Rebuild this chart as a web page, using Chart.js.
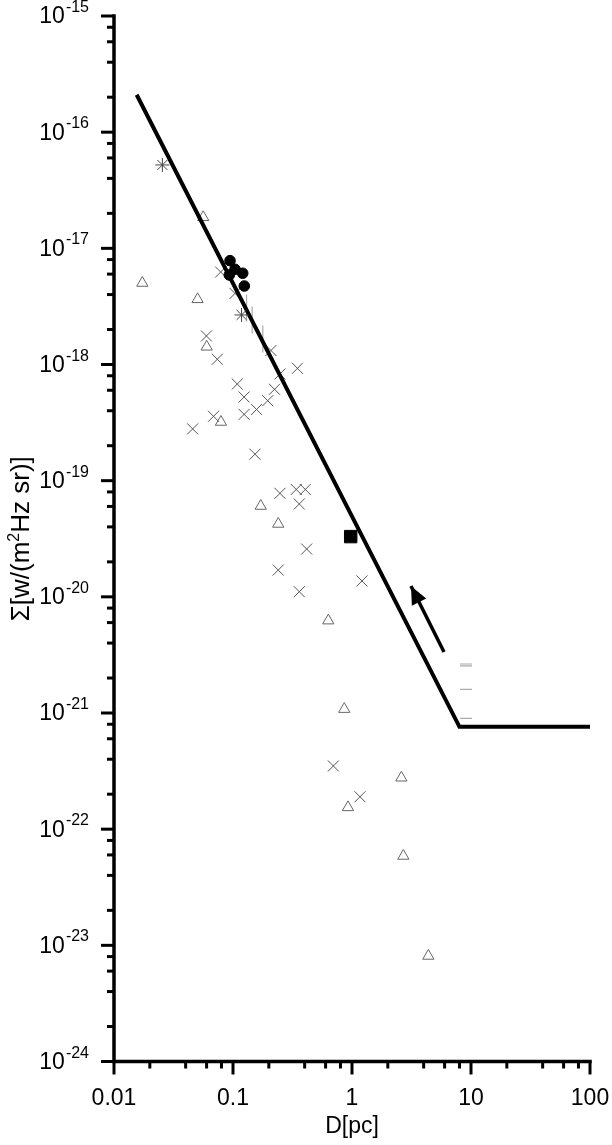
<!DOCTYPE html>
<html>
<head>
<meta charset="utf-8">
<script src="https://cdn.jsdelivr.net/npm/chart.js@4.4.0/dist/chart.umd.min.js"></script>
<style>
  html, body { margin: 0; padding: 0; background: #fff; }
</style>
</head>
<body>
<canvas id="myChart" width="612" height="1145"></canvas>
<script>
// Surface brightness Σ vs diameter D (log-log)

// gray crosses
const crossD = [0.0788, 0.104, 0.0598, 0.0738, 0.2085, 0.348, 0.248, 0.1086, 0.2234, 0.124, 0.1957, 0.1576, 0.124,
                0.0686, 0.0458, 0.153, 0.248, 0.340, 0.405, 0.3605, 0.416, 0.240, 0.3605, 1.213, 0.697, 1.167];
const crossS = [6.25e-18, 4.09e-18, 1.76e-18, 1.11e-18, 1.32e-18, 9.27e-19, 8.28e-19, 6.79e-19, 6.12e-19, 5.25e-19, 4.88e-19, 4.1e-19, 3.72e-19,
                3.58e-19, 2.79e-19, 1.69e-19, 7.78e-20, 8.4e-20, 8.4e-20, 6.3e-20, 2.58e-20, 1.70e-20, 1.107e-20, 1.37e-20, 3.5e-22, 1.9e-22];

// open triangles
const triD = [0.0173, 0.0562, 0.0504, 0.0601, 0.0792, 0.171, 0.240, 0.632, 0.861, 2.6, 0.925, 2.70, 4.38];
const triS = [5.03e-18, 1.85e-17, 3.64e-18, 1.42e-18, 3.2e-19, 6.05e-20, 4.24e-20, 6.24e-21, 1.08e-21, 2.77e-22, 1.54e-22, 5.88e-23, 8.1e-24];

// asterisks
const starD = [0.0255, 0.118];
const starS = [5.22e-17, 2.67e-18];

// filled circles
const dotD = [0.0944, 0.104, 0.1207, 0.0931, 0.1245];
const dotS = [7.83e-18, 6.6e-18, 6.1e-18, 5.9e-18, 4.74e-18];

// filled square
const squareD = [0.975];
const squareS = [3.3e-20];

// vertical and horizontal dash markers
const vbarD = [0.130, 0.145, 0.178];
const vbarS = [3.06e-18, 2.42e-18, 1.66e-18];
const hbarD = [9.08, 9.08, 9.08, 9.08];
const hbarS = [2.64e-21, 2.54e-21, 1.6e-21, 9.0e-22];

// Σ-D line and the arrow (tail, tip)
const fitD = [0.0155, 8, 100];
const fitS = [2.1e-16, 7.6e-22, 7.6e-22];
const arrowD = [5.93, 3.13];
const arrowS = [3.35e-21, 1.24e-20];

const xTicks = [0.01, 0.1, 1, 10, 100];
const xTickLabels = ['0.01', '0.1', '1', '10', '100'];
const yExponents = [-24, -23, -22, -21, -20, -19, -18, -17, -16, -15];

const FONT = '"Liberation Sans", Arial, Helvetica, sans-serif';

function pts(xs, ys) {
    return xs.map((x, i) => ({ x: x, y: ys[i] }));
}

// Draws axes, ticks, labels and the arrow head
const axesPlugin = {
    id: 'axes',
    afterDatasetsDraw(chart) {
        const ctx = chart.ctx;
        const xs = chart.scales.x, ys = chart.scales.y;
        const a = chart.chartArea;
        ctx.save();

        // arrow head
        const tx = xs.getPixelForValue(arrowD[0]), ty = ys.getPixelForValue(arrowS[0]);
        const hx = xs.getPixelForValue(arrowD[1]), hy = ys.getPixelForValue(arrowS[1]);
        const ang = Math.atan2(hy - ty, hx - tx);
        const len = 18, half = 8;
        const bx = hx - Math.cos(ang) * len, by = hy - Math.sin(ang) * len;
        ctx.fillStyle = '#000';
        ctx.beginPath();
        ctx.moveTo(hx, hy);
        ctx.lineTo(bx + Math.sin(ang) * half, by - Math.cos(ang) * half);
        ctx.lineTo(bx - Math.sin(ang) * half, by + Math.cos(ang) * half);
        ctx.closePath();
        ctx.fill();

        // axis lines
        ctx.strokeStyle = '#000';
        ctx.lineWidth = 3.5;
        ctx.lineCap = 'square';
        ctx.beginPath();
        ctx.moveTo(a.left, a.top);
        ctx.lineTo(a.left, a.bottom);
        ctx.lineTo(a.right, a.bottom);
        ctx.stroke();

        ctx.lineCap = 'butt';
        ctx.lineWidth = 3;
        // y ticks
        for (const e of yExponents) {
            for (const m of [1, 2, 4, 6, 8]) {
                if (e === -15 && m > 1) continue;
                const y = ys.getPixelForValue(m * Math.pow(10, e));
                const l = m === 1 ? 13 : 7;
                ctx.beginPath();
                ctx.moveTo(a.left - l, y);
                ctx.lineTo(a.left, y);
                ctx.stroke();
            }
        }
        // x ticks
        for (let e = -2; e <= 2; e++) {
            for (const m of [1, 2, 4, 6, 8]) {
                if (e === 2 && m > 1) continue;
                const x = xs.getPixelForValue(m * Math.pow(10, e));
                const l = m === 1 ? 13 : 7;
                ctx.beginPath();
                ctx.moveTo(x, a.bottom);
                ctx.lineTo(x, a.bottom + l);
                ctx.stroke();
            }
        }

        ctx.fillStyle = '#000';
        // y tick labels with superscript exponent
        for (const e of yExponents) {
            const y = ys.getPixelForValue(Math.pow(10, e));
            const sup = '-' + Math.abs(e);
            ctx.font = '16px ' + FONT;
            const ws = ctx.measureText(sup).width + 1;
            ctx.textAlign = 'left';
            ctx.textBaseline = 'alphabetic';
            ctx.fillText(sup, 90 - ws, y - 4);
            ctx.font = '23px ' + FONT;
            ctx.textAlign = 'right';
            ctx.textBaseline = 'middle';
            ctx.fillText('10', 89 - ws, y + 1);
        }

        // x tick labels
        ctx.font = '23px ' + FONT;
        ctx.textAlign = 'center';
        ctx.textBaseline = 'middle';
        xTicks.forEach((v, i) => {
            ctx.fillText(xTickLabels[i], xs.getPixelForValue(v), 1099);
        });
        ctx.fillText('D[pc]', (a.left + a.right) / 2, 1127);

        // y title
        ctx.translate(20, (a.top + a.bottom) / 2);
        ctx.rotate(-Math.PI / 2);
        const p1 = '\u03A3[w/(m', p2 = '2', p3 = 'Hz sr)]';
        ctx.font = '26px ' + FONT;
        const w1 = ctx.measureText(p1).width, w3 = ctx.measureText(p3).width;
        ctx.font = '16px ' + FONT;
        const w2 = ctx.measureText(p2).width;
        let x0 = -(w1 + w2 + w3) / 2;
        ctx.textAlign = 'left';
        ctx.textBaseline = 'alphabetic';
        ctx.font = '26px ' + FONT;
        ctx.fillText(p1, x0, 9);
        ctx.font = '16px ' + FONT;
        ctx.fillText(p2, x0 + w1, -1);
        ctx.font = '26px ' + FONT;
        ctx.fillText(p3, x0 + w1 + w2, 9);

        ctx.restore();
    }
};

const ctx = document.getElementById('myChart');
let myChart = new Chart(ctx, {
    type: 'scatter',
    data: {
        datasets: [
            {
                data: pts(crossD, crossS), pointStyle: 'crossRot', pointRadius: 7.8,
                pointBorderColor: '#555', pointBorderWidth: 1, order: 5
            },
            {
                data: pts(triD, triS), pointStyle: 'triangle', pointRadius: 6.5,
                pointBorderColor: '#666', pointBackgroundColor: 'rgba(0,0,0,0)', pointBorderWidth: 1, order: 5
            },
            {
                data: pts(vbarD, vbarS), pointStyle: 'line', pointRotation: 90, pointRadius: 13.5,
                pointBorderColor: '#aaa', pointBorderWidth: 1.2, order: 5
            },
            {
                data: pts(hbarD, hbarS), pointStyle: 'line', pointRadius: 6,
                pointBorderColor: '#aaa', pointBorderWidth: 1.2, order: 5
            },
            {
                data: pts(fitD, fitS), showLine: true, pointRadius: 0, borderColor: '#000',
                borderWidth: 4, tension: 0, order: 3
            },
            {
                data: pts(arrowD, arrowS), showLine: true, pointRadius: 0, borderColor: '#000',
                borderWidth: 3.5, tension: 0, order: 3
            },
            {
                data: pts(starD, starS), pointStyle: 'star', pointRadius: 7,
                pointBorderColor: '#444', pointBorderWidth: 1, order: 1
            },
            {
                data: pts(dotD, dotS), pointStyle: 'circle', pointRadius: 5.3,
                pointBorderColor: '#000', pointBackgroundColor: '#000', pointBorderWidth: 1, order: 1
            },
            {
                data: pts(squareD, squareS), pointStyle: 'rect', pointRadius: 8.8,
                pointBorderColor: '#000', pointBackgroundColor: '#000', pointBorderWidth: 1, order: 1
            }
        ]
    },
    options: {
        responsive: false,
        animation: false,
        devicePixelRatio: 1,
        events: [],
        layout: { padding: { left: 114, right: 22, top: 16, bottom: 83.5 } },
        plugins: {
            legend: { display: false },
            tooltip: { enabled: false }
        },
        scales: {
            x: { type: 'logarithmic', min: 0.01, max: 100, display: false },
            y: { type: 'logarithmic', min: 1e-24, max: 1e-15, display: false }
        }
    },
    plugins: [axesPlugin]
});
</script>
</body>
</html>
